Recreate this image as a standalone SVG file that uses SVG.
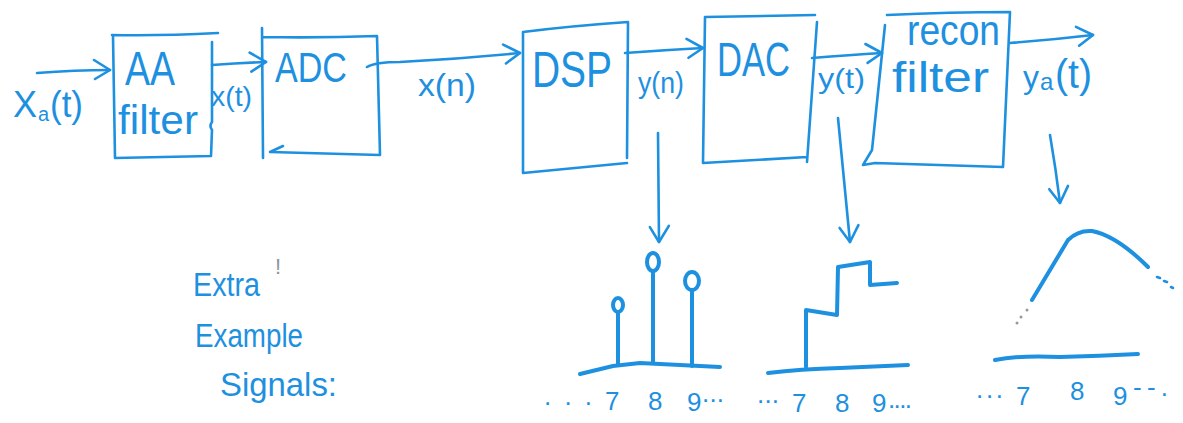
<svg xmlns="http://www.w3.org/2000/svg" width="1183" height="423" viewBox="0 0 1183 423">
<style>
.ln{fill:none;stroke:#1e90e0;stroke-width:2.6;stroke-linecap:round;stroke-linejoin:round}
.sig{fill:none;stroke:#1e90e0;stroke-width:4;stroke-linecap:round;stroke-linejoin:round}
.t{font-family:"Liberation Sans",Arial,sans-serif;fill:#1e90e0}
.d{font-family:"Liberation Sans",Arial,sans-serif;fill:#1e90e0;font-size:26px}
</style>
<defs>
<marker id="ah" markerUnits="userSpaceOnUse" markerWidth="30" markerHeight="30" viewBox="-20 -15 30 30" refX="0" refY="0" orient="auto">
<path d="M-16,-10 L0,0 L-15,9" fill="none" stroke="#1e90e0" stroke-width="2.6" stroke-linecap="round" stroke-linejoin="round"/>
</marker>
</defs>
<rect width="1183" height="423" fill="#ffffff"/>

<g id="aa-filter">
<path class="ln" d="M112,35 Q160,36 218,33 M113,36 L115,158 L211,156 L212,130 Q209,126 212,122 L212,42"/>
<text class="t" x="125" y="85" font-size="48" textLength="50" lengthAdjust="spacingAndGlyphs">AA</text>
<text class="t" x="118" y="134" font-size="40" textLength="80" lengthAdjust="spacingAndGlyphs">filter</text>
</g>

<g id="adc">
<path class="ln" d="M262,28 L263,158 M262,37 Q320,38 377,36 L380,155 L270,152 M270,152 L283,146"/>
<text class="t" x="275" y="82" font-size="42" textLength="72" lengthAdjust="spacingAndGlyphs">ADC</text>
</g>

<g id="dsp">
<path class="ln" d="M523,32 Q570,26 628,22 L627,158 M523,32 L523,173 L627,163"/>
<text class="t" x="532" y="87" font-size="50" textLength="80" lengthAdjust="spacingAndGlyphs">DSP</text>
</g>

<g id="dac">
<path class="ln" d="M705,17 L815,15 M817,22 L807,162 M705,17 L703,163 L807,157"/>
<text class="t" x="717" y="76" font-size="48" textLength="73" lengthAdjust="spacingAndGlyphs">DAC</text>
</g>

<g id="recon-filter">
<path class="ln" d="M887,15 Q950,12 1010,12 L1003,167 Q940,165 875,163 L863,165 L872,150 M885,25 L872,150"/>
<text class="t" x="907" y="45" font-size="42" textLength="93" lengthAdjust="spacingAndGlyphs">recon</text>
<text class="t" x="892" y="92" font-size="42" textLength="97" lengthAdjust="spacingAndGlyphs">filter</text>
</g>

<g id="connectors">
<path class="ln" marker-end="url(#ah)" d="M37,73 Q75,70 110,70"/>
<path class="ln" marker-end="url(#ah)" d="M212,65 Q240,63 266,62"/>
<path class="ln" marker-end="url(#ah)" d="M367,67 Q375,62 400,62 Q460,59 520,53"/>
<path class="ln" marker-end="url(#ah)" d="M625,53 Q665,50 703,48"/>
<path class="ln" marker-end="url(#ah)" d="M812,58 Q850,55 882,53"/>
<path class="ln" marker-end="url(#ah)" d="M1010,43 Q1050,40 1093,35"/>
<path class="ln" marker-end="url(#ah)" d="M658,133 L659,242"/>
<path class="ln" marker-end="url(#ah)" d="M838,118 L850,242"/>
<path class="ln" marker-end="url(#ah)" d="M1050,135 Q1056,170 1060,203"/>
</g>

<g id="labels">
<text class="t" x="13" y="117" font-size="36">X</text>
<text class="t" x="38" y="121" font-size="20">a</text>
<text class="t" x="50" y="117" font-size="36" textLength="33" lengthAdjust="spacingAndGlyphs">(t)</text>
<text class="t" x="211" y="106" font-size="28" textLength="41" lengthAdjust="spacingAndGlyphs">x(t)</text>
<text class="t" x="418" y="96" font-size="32" textLength="58" lengthAdjust="spacingAndGlyphs">x(n)</text>
<text class="t" x="638" y="93" font-size="30" textLength="46" lengthAdjust="spacingAndGlyphs">y(n)</text>
<text class="t" x="818" y="88" font-size="28" textLength="47" lengthAdjust="spacingAndGlyphs">y(t)</text>
<text class="t" x="1023" y="88" font-size="32">y</text>
<text class="t" x="1040" y="90" font-size="24">a</text>
<text class="t" x="1055" y="88" font-size="40" textLength="37" lengthAdjust="spacingAndGlyphs">(t)</text>
</g>

<g id="note">
<text class="t" x="193" y="296" font-size="34" textLength="67" lengthAdjust="spacingAndGlyphs">Extra</text>
<text x="275" y="274" font-size="22" font-family="Liberation Sans, Arial, sans-serif" fill="#8a96a3">!</text>
<text class="t" x="195" y="347" font-size="34" textLength="108" lengthAdjust="spacingAndGlyphs">Example</text>
<text class="t" x="220" y="396" font-size="34" textLength="117" lengthAdjust="spacingAndGlyphs">Signals:</text>
</g>

<g id="signal-discrete">
<path class="sig" d="M580,374 L613,366 L640,363 L720,367"/>
<path class="sig" d="M618,365 L618,312 M653,363 L653,271 M692,366 L692,290"/>
<ellipse class="sig" cx="618" cy="305" rx="5" ry="7" stroke-width="3.2"/>
<ellipse class="sig" cx="653" cy="262" rx="6" ry="9" stroke-width="3.2"/>
<ellipse class="sig" cx="692" cy="281" rx="7" ry="9" stroke-width="3.2"/>
<text class="d" x="544" y="405" textLength="48" lengthAdjust="spacing">. . .</text>
<text class="d" x="605" y="410">7</text>
<text class="d" x="648" y="410">8</text>
<text class="d" x="687" y="411">9</text>
<text class="d" x="702" y="402" textLength="22" lengthAdjust="spacing">...</text>
</g>

<g id="signal-staircase">
<path class="sig" d="M768,373 Q800,369 840,368 L908,365"/>
<path class="sig" d="M806,367 L806,310 L837,315 L838,267 L870,262 L870,285 L897,283"/>
<text class="d" x="757" y="403" textLength="22" lengthAdjust="spacing">...</text>
<text class="d" x="792" y="412">7</text>
<text class="d" x="835" y="412">8</text>
<text class="d" x="872" y="412">9</text>
<text class="d" x="888" y="408" textLength="24" lengthAdjust="spacing">....</text>
</g>

<g id="signal-smooth">
<path class="sig" d="M1032,300 L1068,240 Q1078,230 1092,231 Q1117,236 1148,267"/>
<circle cx="1027" cy="310" r="1.5" fill="#555" opacity="0.6"/>
<circle cx="1021" cy="317" r="1.5" fill="#555" opacity="0.6"/>
<circle cx="1017" cy="323" r="1.5" fill="#555" opacity="0.6"/>
<path class="ln" stroke-width="2" d="M1157,277 L1160,278 M1164,281 L1167,282 M1171,287 L1173,288"/>
<path class="sig" stroke="#2a88c0" stroke-width="3.4" d="M995,360 Q1020,355 1060,357 Q1100,356 1138,354"/>
<text class="d" x="976" y="398" textLength="27" lengthAdjust="spacing">...</text>
<text class="d" x="1016" y="405" font-size="30">7</text>
<text class="d" x="1070" y="400">8</text>
<text class="d" x="1113" y="405">9</text>
<text class="d" x="1133" y="396" font-size="20" textLength="35" lengthAdjust="spacing">- - .</text>
</g>
</svg>
